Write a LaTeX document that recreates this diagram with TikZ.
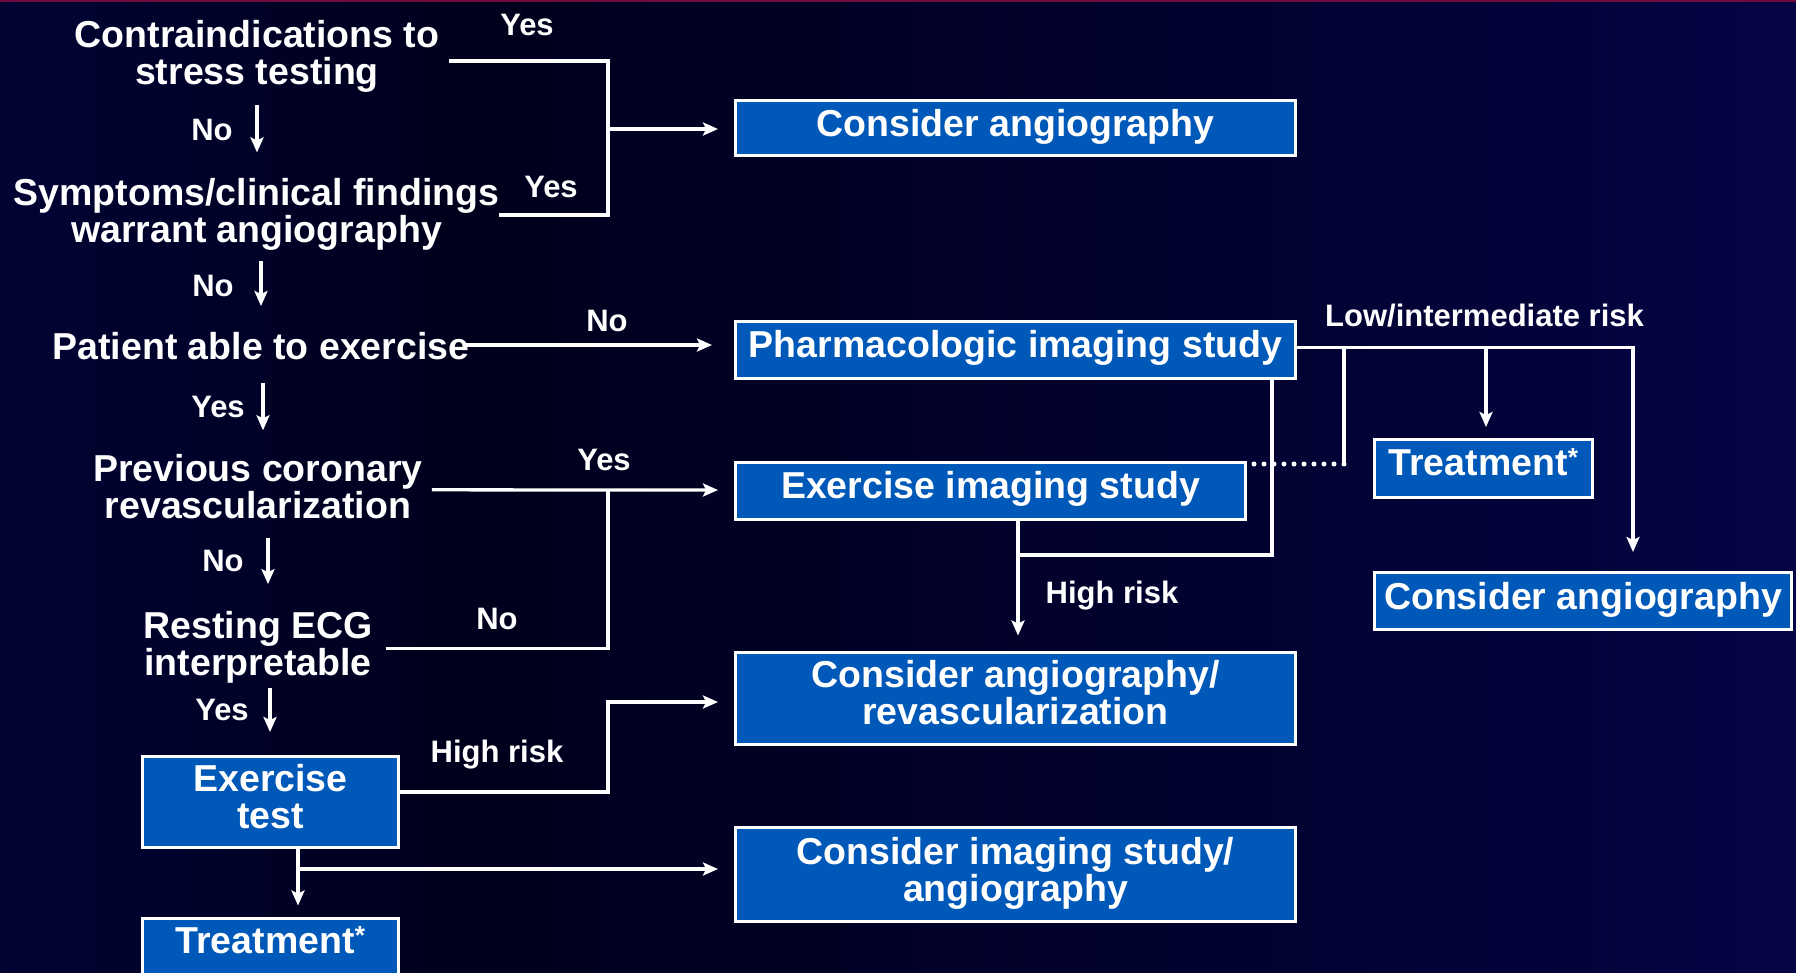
\documentclass[tikz,border=0pt]{standalone}
\usepackage{fontspec}
\setmainfont{Liberation Sans}
\usetikzlibrary{arrows.meta,calc}
\definecolor{boxblue}{RGB}{0,88,184}
\definecolor{bgL}{RGB}{16,30,165}
\definecolor{bgA}{RGB}{4,8,82}
\definecolor{bgM}{RGB}{0,0,28}
\definecolor{bgB}{RGB}{3,3,58}
\definecolor{bgR}{RGB}{12,12,115}
\definecolor{topline}{RGB}{110,12,62}
\pgfdeclarehorizontalshading{bgshade}{100bp}{color(0bp)=(bgL); color(9bp)=(bgA); color(38bp)=(bgM); color(68bp)=(bgB); color(100bp)=(bgR)}
\newcommand\dstrut{\rule[-11pt]{0pt}{11pt}}
\tikzset{
  box/.style={draw=white, line width=3pt, fill=boxblue, text=white, font=\bfseries\fontsize{37.5}{37}\selectfont, align=center, inner sep=0pt},
  qtext/.style={text=white, font=\bfseries\fontsize{37.5}{37}\selectfont, align=center, inner sep=0pt},
  lbl/.style={text=white, font=\bfseries\fontsize{31}{33}\selectfont, inner sep=0pt},
  wl/.style={draw=white, line width=3.3pt},
  arr/.style={wl, -{Stealth[length=15pt,width=13pt,inset=3pt]}},
  dots/.style={draw=white, line width=5pt, line cap=round, dash pattern=on 0pt off 10pt},
}
\begin{document}
\begin{tikzpicture}[x=1pt,y=-1pt]
\useasboundingbox (0,0) rectangle (1796,972);
\shade[shading=bgshade] (0,0) rectangle (1796,972);
\fill[topline] (0,0) rectangle (1796,2);

% decision texts
\node[qtext] (q1) at (257,56.5) {Contraindications to\\stress testing};
\node[qtext] (q2) at (256.5,214.2) {Symptoms/clinical findings\\warrant angiography};
\node[qtext] (q3) at (261,346.5) {Patient able to exercise};
\node[qtext] (q4) at (258,486.3) {Previous coronary\\revascularization};
\node[qtext] (q5) at (258,646.8) {Resting ECG\\interpretable};

% boxes
\node[box, minimum width=560pt, minimum height=55.5pt] (ca1) at (1015.5,128) {Consider angiography\dstrut};
\node[box, minimum width=560pt, minimum height=57pt] (pharm) at (1015.5,349.5) {Pharmacologic imaging study\dstrut};
\node[box, minimum width=510pt, minimum height=57pt] (exim) at (990.5,490.5) {Exercise imaging study\dstrut};
\node[box, minimum width=560pt, minimum height=92pt] (caR) at (1015.5,698) {Consider angiography/\\revascularization\dstrut};
\node[box, minimum width=560pt, minimum height=94pt] (cis) at (1015.5,874.5) {Consider imaging study/\\angiography\dstrut};
\node[box, minimum width=256pt, minimum height=91pt] (exTest) at (270.5,802) {Exercise\\test\dstrut};
\node[box, minimum width=256pt, inner ysep=10pt, anchor=north] (treat1) at (270.5,916.5) {Treatment\smash{\textsuperscript{*}}\rule[-45pt]{0pt}{45pt}};
\node[box, minimum width=218pt, minimum height=58pt] (treat2) at (1483.5,468.5) {Treatment\smash{\textsuperscript{*}}\dstrut};
\node[box, minimum width=417pt, minimum height=57pt] (ca2) at (1583,601) {Consider angiography\dstrut};

% labels
\node[lbl] (yes1) at (527,25) {Yes};
\node[lbl] (no1) at (212,130) {No};
\node[lbl] (yes2) at (551,187) {Yes};
\node[lbl] (no2) at (213,286) {No};
\node[lbl] (no3) at (607,321) {No};
\node[lbl] (yes3) at (218,407) {Yes};
\node[lbl] (yes4) at (604,460) {Yes};
\node[lbl] (no4) at (223,561) {No};
\node[lbl] (no5) at (497,619) {No};
\node[lbl] (yes5) at (222,710) {Yes};
\node[lbl] (hr1) at (497,755) {High risk};
\node[lbl] (hr2) at (1112,596) {High risk};
\node[lbl] (lir) at (1484.5,316) {Low/intermediate risk};

% junction coordinates
\coordinate (jA) at (608,129);
\coordinate (jB) at (608,215);
\coordinate (jC) at (608,490);
\coordinate (jD) at (608,702);
\coordinate (jE) at (298,869);
\coordinate (jF) at (1633,347.5);
\coordinate (jG) at (1486,347.5);
\coordinate (jH) at (1344,347.5);
\coordinate (jI) at (1344,464);
\coordinate (jJ) at (1272,555);
\coordinate (jK) at (1018,555);

% left vertical arrows
\draw[arr, shorten <=12.5pt, shorten >=25.5pt] (q1.south) -- (q1.south |- q2.north);
\draw[arr, shorten <=10.5pt, shorten >=26.5pt] ([xshift=4.5pt]q2.south) -- ([xshift=4.5pt]q2.south |- q3.north);
\draw[arr, shorten <=22.5pt, shorten >=23.5pt] ([xshift=2pt]q3.south) -- ([xshift=2pt]q3.south |- q4.north);
\draw[arr, shorten <=19.5pt, shorten >=26.5pt] ([xshift=10pt]q4.south) -- ([xshift=10pt]q4.south |- q5.north);
\draw[arr, shorten <=5.5pt, shorten >=23pt] ([xshift=12pt]q5.south) -- ([xshift=12pt]q5.south |- exTest.north);

% top bracket to consider angiography
\draw[wl] ([xshift=10pt,yshift=-4.5pt]q1.east) -| (jB) -- (jB -| q2.east);
\draw[arr, shorten >=16pt] (jA) -- (jA -| ca1.west);

% patient able to exercise -> pharmacologic
\draw[arr, shorten >=16pt] ([xshift=-6pt,yshift=1.5pt]q3.east) -- ([xshift=-6pt,yshift=1.5pt]q3.east -| pharm.west);

% previous revasc / resting ECG -> exercise imaging
\draw[arr, shorten >=16pt] ([xshift=9pt,yshift=-3.5pt]q4.east) -- (jC) -- (jC -| exim.west);
\draw[wl] ([xshift=13pt,yshift=-1.5pt]q5.east) -| (jC);

% exercise test outputs
\draw[arr, shorten >=16pt] ([yshift=10pt]exTest.east) -| (jD) -- (jD -| caR.west);
\draw[arr, shorten >=11pt] ([xshift=27.5pt]exTest.south) -- ([xshift=27.5pt]exTest.south |- treat1.north);
\draw[arr, shorten >=16pt] (jE) -- (jE -| cis.west);

% pharmacologic outputs
\draw[arr, shorten >=19pt] ([yshift=2pt]pharm.east) -- (jF) -- (jF |- ca2.north);
\draw[arr, shorten >=11pt] (jG) -- (jG |- treat2.north);
\draw[wl] (jH) -- (jI);
\draw[dots] (jI) -- ([xshift=3pt]jI -| exim.east);
\draw[wl] (pharm.south -| jJ) -- (jJ) -- (jK);
\draw[arr, shorten >=15pt] (exim.south -| jK) -- (jK |- caR.north);
\end{tikzpicture}
\end{document}
